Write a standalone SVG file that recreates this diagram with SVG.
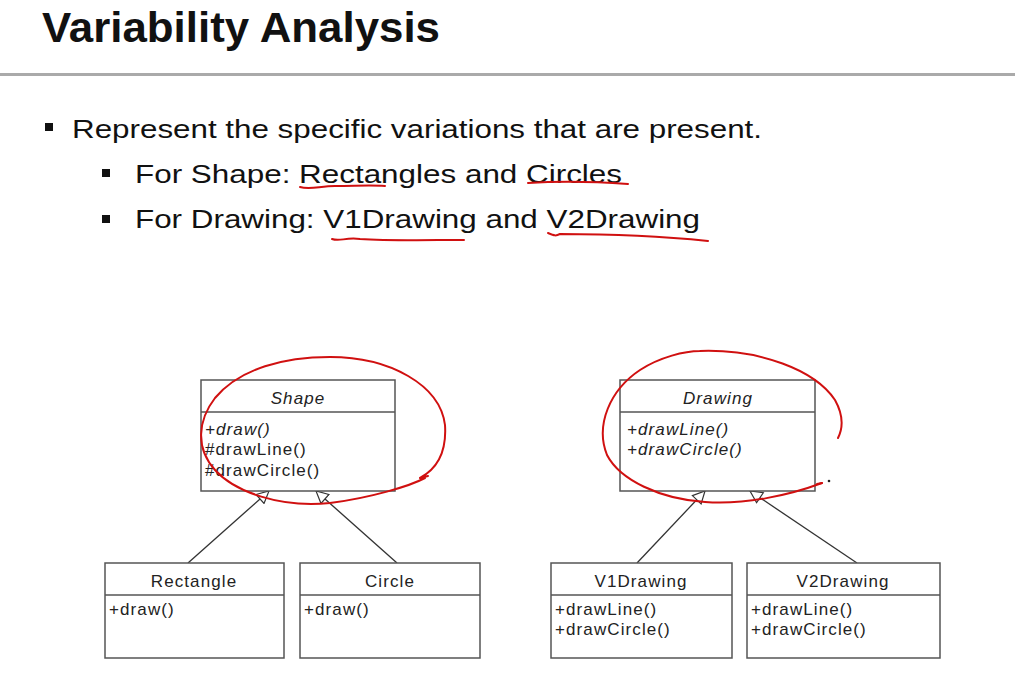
<svg xmlns="http://www.w3.org/2000/svg" width="1015" height="683" viewBox="0 0 1015 683">
<defs>
<style>
.t{font-family:"Liberation Sans",Arial,sans-serif;fill:#111}
.u{font-family:"Liberation Sans",Arial,sans-serif;font-size:17px;letter-spacing:1.1px;fill:#222}
.i{font-style:italic}
.box{fill:#fff;stroke:#555;stroke-width:1.5}
.div{stroke:#555;stroke-width:1.5}
.con{stroke:#333;stroke-width:1.3;fill:none;marker-end:url(#tri)}
.red{stroke:#d01010;stroke-width:2;fill:none;stroke-linecap:round;stroke-linejoin:round}
</style>
<marker id="tri" viewBox="0 0 14 14" refX="13" refY="7" markerWidth="14" markerHeight="14" markerUnits="userSpaceOnUse" orient="auto">
<path d="M1,1 L13,7 L1,13 Z" fill="#fff" stroke="#333" stroke-width="1.2"/>
</marker>
</defs>
<rect width="1015" height="683" fill="#fff"/>
<text class="t" x="42" y="42" font-size="43" font-weight="bold" textLength="398" lengthAdjust="spacingAndGlyphs">Variability Analysis</text>
<rect x="0" y="73" width="1015" height="3" fill="#aaa"/>
<rect x="45" y="123" width="8" height="8" fill="#111"/>
<text class="t" x="72" y="138" font-size="26" textLength="690" lengthAdjust="spacingAndGlyphs">Represent the specific variations that are present.</text>
<rect x="102" y="169" width="8" height="8" fill="#111"/>
<text class="t" x="135" y="183" font-size="26" textLength="487" lengthAdjust="spacingAndGlyphs">For Shape: Rectangles and Circles</text>
<rect x="102" y="215" width="8" height="8" fill="#111"/>
<text class="t" x="135" y="228" font-size="26" textLength="565" lengthAdjust="spacingAndGlyphs">For Drawing: V1Drawing and V2Drawing</text>
<g id="connectors">
<line class="con" x1="188" y1="563" x2="269" y2="491"/>
<line class="con" x1="397" y1="563" x2="316" y2="491"/>
<line class="con" x1="637" y1="563" x2="705" y2="491"/>
<line class="con" x1="857" y1="563" x2="750" y2="491"/>
</g>
<g id="shape">
<rect class="box" x="201" y="380" width="194" height="111"/>
<line class="div" x1="201" y1="412" x2="395" y2="412"/>
<text class="u i" x="298" y="404" text-anchor="middle">Shape</text>
<text class="u i" x="205" y="435">+draw()</text>
<text class="u" x="205" y="455">#drawLine()</text>
<text class="u" x="205" y="476">#drawCircle()</text>
</g>
<g id="drawing">
<rect class="box" x="620" y="380" width="195" height="111"/>
<line class="div" x1="620" y1="412" x2="815" y2="412"/>
<text class="u i" x="718" y="404" text-anchor="middle">Drawing</text>
<text class="u i" x="627" y="435">+drawLine()</text>
<text class="u i" x="627" y="455">+drawCircle()</text>
</g>
<g id="rectangle">
<rect class="box" x="105" y="563" width="179" height="95"/>
<line class="div" x1="105" y1="595" x2="284" y2="595"/>
<text class="u" x="194" y="587" text-anchor="middle">Rectangle</text>
<text class="u" x="109" y="615">+draw()</text>
</g>
<g id="circle">
<rect class="box" x="300" y="563" width="180" height="95"/>
<line class="div" x1="300" y1="595" x2="480" y2="595"/>
<text class="u" x="390" y="587" text-anchor="middle">Circle</text>
<text class="u" x="304" y="615">+draw()</text>
</g>
<g id="v1drawing">
<rect class="box" x="551" y="563" width="181" height="95"/>
<line class="div" x1="551" y1="595" x2="732" y2="595"/>
<text class="u" x="641" y="587" text-anchor="middle">V1Drawing</text>
<text class="u" x="555" y="615">+drawLine()</text>
<text class="u" x="555" y="635">+drawCircle()</text>
</g>
<g id="v2drawing">
<rect class="box" x="747" y="563" width="193" height="95"/>
<line class="div" x1="747" y1="595" x2="940" y2="595"/>
<text class="u" x="843" y="587" text-anchor="middle">V2Drawing</text>
<text class="u" x="751" y="615">+drawLine()</text>
<text class="u" x="751" y="635">+drawCircle()</text>
</g>
<g id="annotations">
<path class="red" d="M300,187 C310,190 320,186 335,186 C355,186 370,185 385,186"/>
<path class="red" d="M528,183 C560,181 600,182 628,184"/>
<path class="red" d="M332,239 C340,242 345,237 360,239 C390,241 430,240 464,240"/>
<path class="red" d="M548,233 C555,236 556,236 560,234 C600,234 660,236 708,241"/>
<path class="red" d="M425,478 C410,486 370,498 330,503 C280,508 235,492 215,470 C195,448 198,420 215,398 C240,368 285,357 330,357 C390,357 440,385 445,425 C447,455 435,470 420,478 L428,476"/>
<path class="red" d="M700,351 C760,349 815,370 835,400 C845,418 842,430 838,438 M822,483 C790,495 745,505 705,502 C660,499 620,480 607,455 C595,425 610,390 640,370 C660,357 685,351 700,351"/>
<path class="red" d="M822,483 L817,484"/>
<circle cx="829" cy="481" r="1.3" fill="#222"/>
</g>
</svg>
